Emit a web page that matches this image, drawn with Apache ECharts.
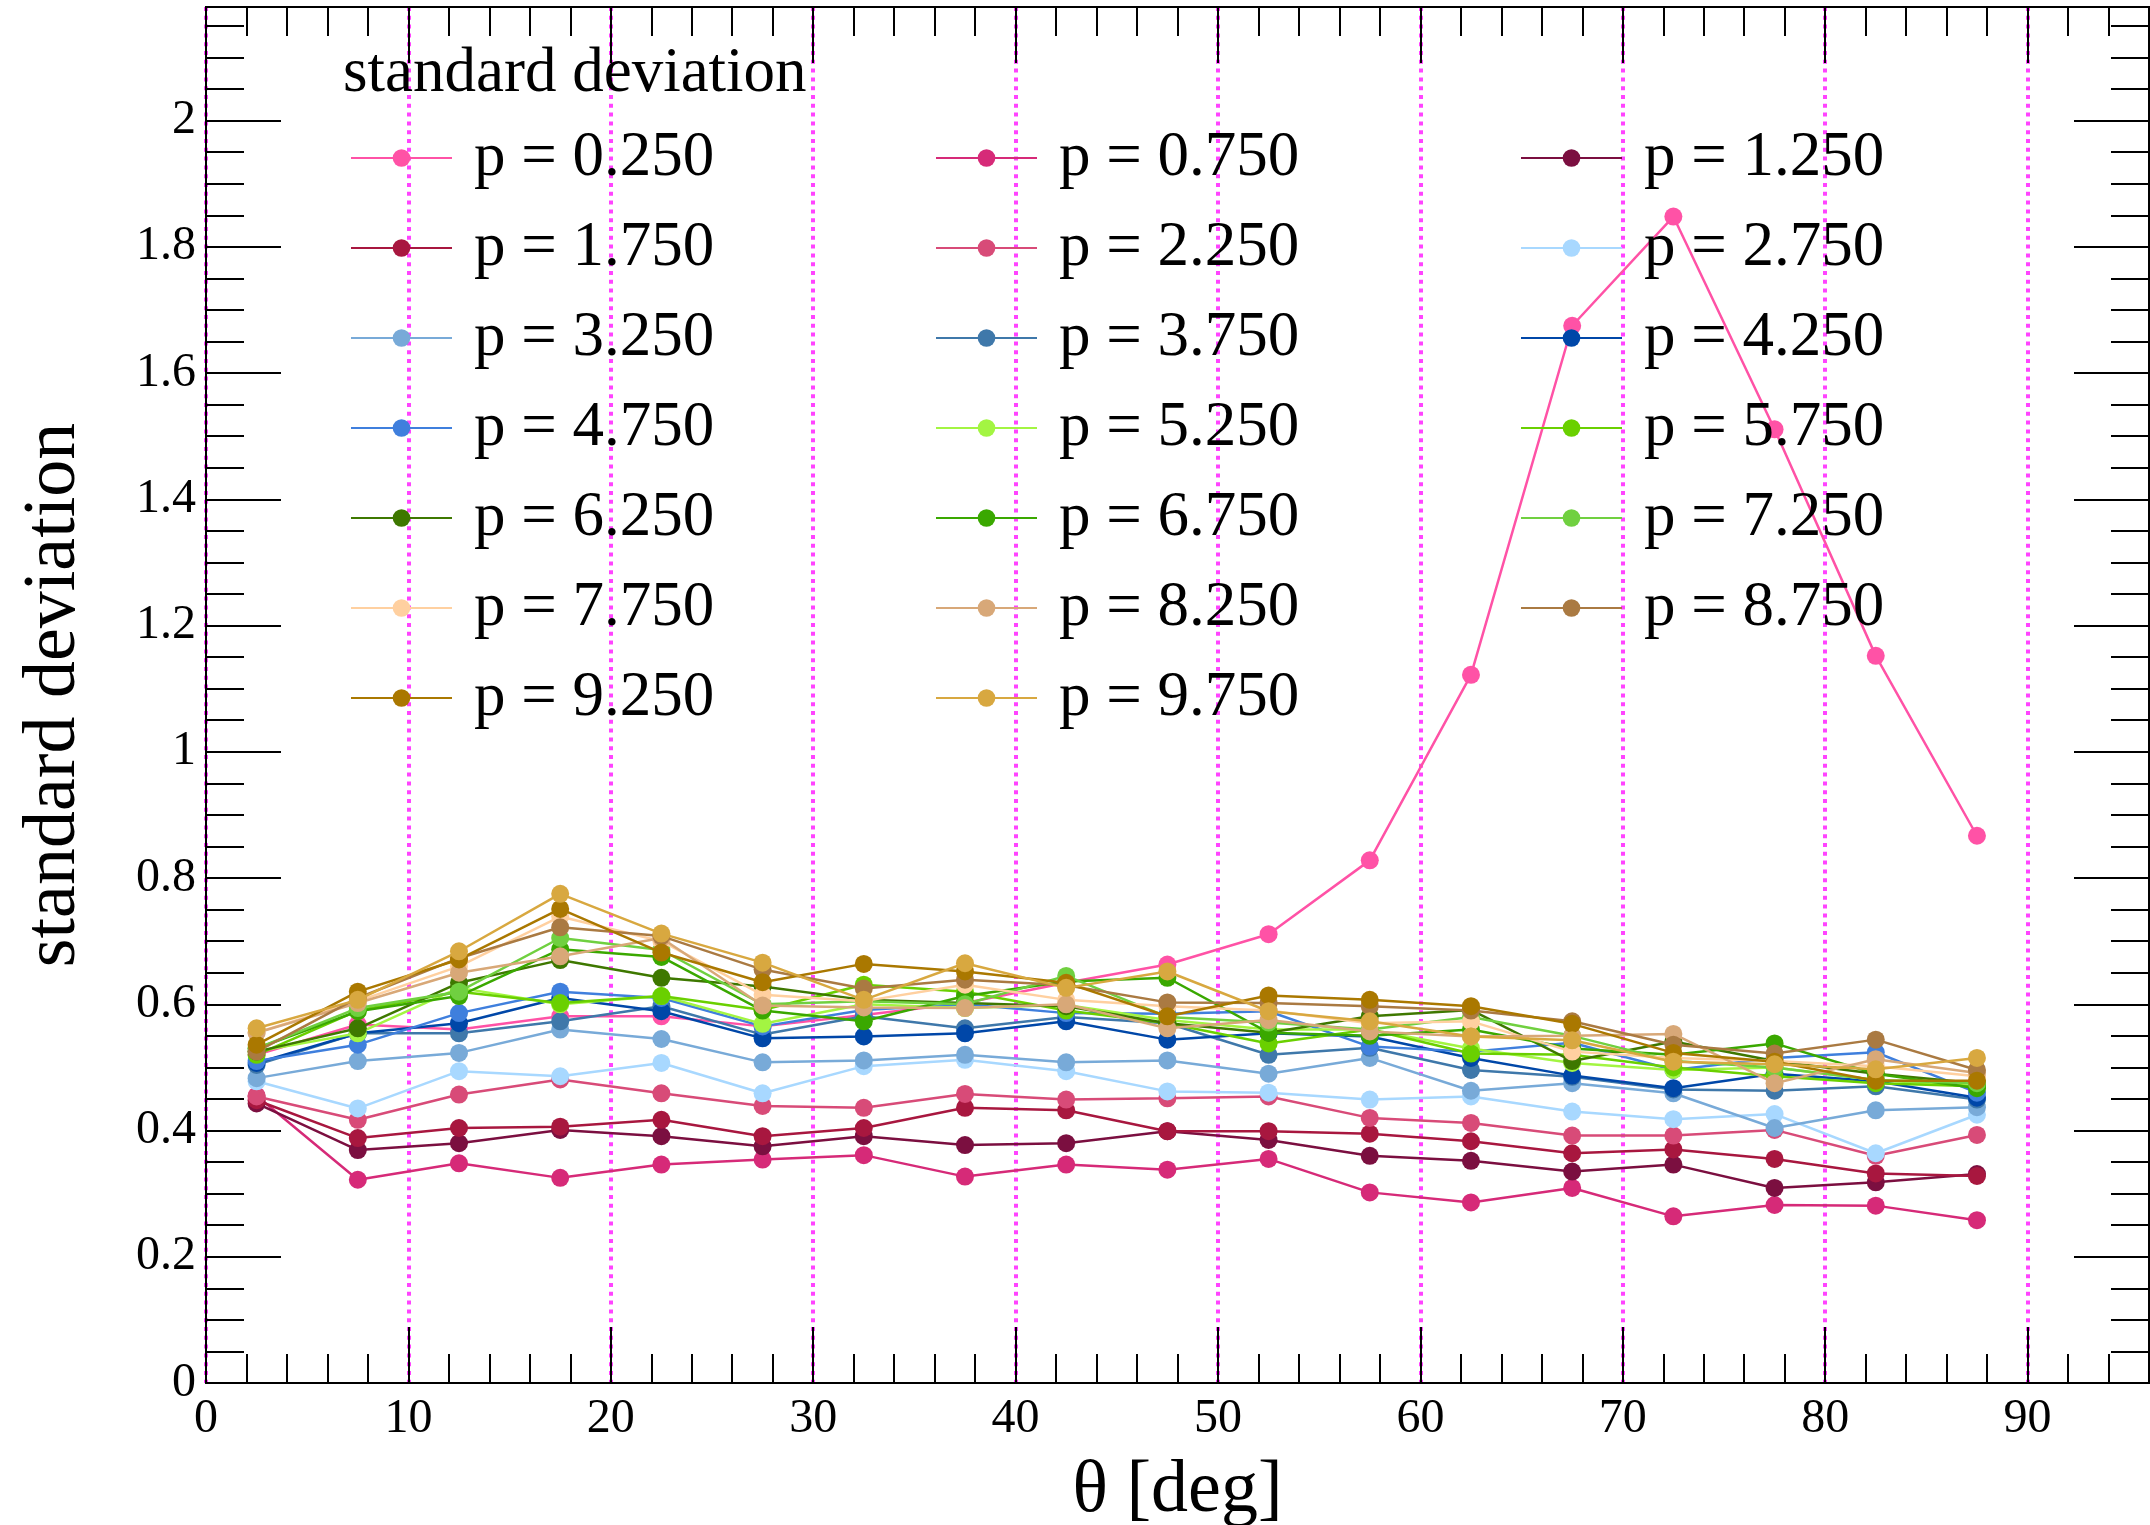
<!DOCTYPE html>
<html><head><meta charset="utf-8">
<script src="https://cdn.jsdelivr.net/npm/echarts@6/dist/echarts.min.js"></script>
<style>html,body{margin:0;padding:0;background:#fff}#c{width:2150px;height:1525px}</style>
</head><body><div id="c"></div>
<script>
// ---- data ----
const theta = [2.5, 7.5, 12.5, 17.5, 22.5, 27.5, 32.5, 37.5, 42.5, 47.5, 52.5, 57.5, 62.5, 67.5, 72.5, 77.5, 82.5, 87.5];
const pValues = [0.25, 0.75, 1.25, 1.75, 2.25, 2.75, 3.25, 3.75, 4.25, 4.75, 5.25, 5.75, 6.25, 6.75, 7.25, 7.75, 8.25, 8.75, 9.25, 9.75];
const sdP0250 = [0.520, 0.568, 0.560, 0.581, 0.581, 0.565, 0.583, 0.602, 0.634, 0.663, 0.711, 0.828, 1.122, 1.675, 1.848, 1.511, 1.152, 0.867];
const sdP0750 = [0.455, 0.322, 0.348, 0.325, 0.346, 0.354, 0.361, 0.327, 0.346, 0.338, 0.355, 0.302, 0.286, 0.309, 0.264, 0.282, 0.281, 0.258];
const sdP1250 = [0.443, 0.369, 0.380, 0.401, 0.391, 0.375, 0.391, 0.377, 0.380, 0.399, 0.385, 0.360, 0.352, 0.335, 0.346, 0.309, 0.318, 0.331];
const sdP1750 = [0.448, 0.388, 0.404, 0.406, 0.417, 0.391, 0.404, 0.436, 0.432, 0.399, 0.399, 0.395, 0.383, 0.364, 0.370, 0.355, 0.332, 0.328];
const sdP2250 = [0.454, 0.417, 0.457, 0.481, 0.459, 0.439, 0.436, 0.458, 0.449, 0.451, 0.454, 0.420, 0.412, 0.392, 0.392, 0.401, 0.360, 0.393];
const sdP2750 = [0.478, 0.435, 0.494, 0.486, 0.507, 0.459, 0.502, 0.512, 0.494, 0.462, 0.460, 0.449, 0.454, 0.430, 0.418, 0.426, 0.364, 0.425];
const sdP3250 = [0.483, 0.510, 0.523, 0.560, 0.545, 0.508, 0.511, 0.520, 0.508, 0.511, 0.490, 0.515, 0.463, 0.475, 0.459, 0.404, 0.432, 0.437];
const sdP3750 = [0.504, 0.554, 0.554, 0.573, 0.597, 0.552, 0.581, 0.562, 0.580, 0.570, 0.520, 0.531, 0.496, 0.485, 0.465, 0.463, 0.470, 0.449];
const sdP4250 = [0.507, 0.554, 0.570, 0.610, 0.589, 0.546, 0.549, 0.554, 0.573, 0.544, 0.554, 0.549, 0.515, 0.487, 0.467, 0.490, 0.478, 0.452];
const sdP4750 = [0.510, 0.536, 0.586, 0.620, 0.610, 0.565, 0.591, 0.600, 0.586, 0.585, 0.589, 0.533, 0.525, 0.539, 0.496, 0.515, 0.524, 0.460];
const sdP5250 = [0.525, 0.554, 0.626, 0.600, 0.613, 0.569, 0.600, 0.594, 0.599, 0.575, 0.560, 0.560, 0.530, 0.507, 0.496, 0.500, 0.480, 0.470];
const sdP5750 = [0.520, 0.590, 0.620, 0.602, 0.613, 0.591, 0.631, 0.620, 0.590, 0.570, 0.538, 0.560, 0.522, 0.520, 0.500, 0.486, 0.475, 0.470];
const sdP6250 = [0.525, 0.562, 0.634, 0.670, 0.642, 0.628, 0.607, 0.602, 0.597, 0.570, 0.555, 0.581, 0.591, 0.510, 0.541, 0.510, 0.490, 0.475];
const sdP6750 = [0.530, 0.589, 0.613, 0.687, 0.675, 0.590, 0.573, 0.613, 0.636, 0.642, 0.555, 0.550, 0.560, 0.530, 0.520, 0.538, 0.490, 0.467];
const sdP7250 = [0.530, 0.594, 0.620, 0.705, 0.686, 0.600, 0.605, 0.600, 0.645, 0.580, 0.571, 0.560, 0.580, 0.550, 0.510, 0.500, 0.480, 0.475];
const sdP7750 = [0.555, 0.605, 0.660, 0.739, 0.700, 0.615, 0.605, 0.631, 0.607, 0.597, 0.590, 0.570, 0.573, 0.525, 0.515, 0.510, 0.502, 0.486];
const sdP8250 = [0.555, 0.602, 0.650, 0.676, 0.705, 0.598, 0.595, 0.594, 0.600, 0.562, 0.575, 0.557, 0.549, 0.550, 0.553, 0.475, 0.513, 0.491];
const sdP8750 = [0.525, 0.610, 0.673, 0.722, 0.708, 0.655, 0.625, 0.639, 0.630, 0.603, 0.602, 0.597, 0.590, 0.573, 0.536, 0.522, 0.544, 0.496];
const sdP9250 = [0.536, 0.620, 0.671, 0.751, 0.682, 0.635, 0.664, 0.652, 0.634, 0.581, 0.614, 0.607, 0.597, 0.569, 0.523, 0.509, 0.479, 0.479];
const sdP9750 = [0.562, 0.607, 0.684, 0.775, 0.712, 0.666, 0.607, 0.665, 0.626, 0.652, 0.589, 0.573, 0.549, 0.543, 0.509, 0.505, 0.497, 0.515];
const seriesValues = [sdP0250, sdP0750, sdP1250, sdP1750, sdP2250, sdP2750, sdP3250, sdP3750, sdP4250, sdP4750,
  sdP5250, sdP5750, sdP6250, sdP6750, sdP7250, sdP7750, sdP8250, sdP8750, sdP9250, sdP9750];
const xMajorTicks = [0, 10, 20, 30, 40, 50, 60, 70, 80, 90];
const yMajorTicks = [0, 0.2, 0.4, 0.6, 0.8, 1, 1.2, 1.4, 1.6, 1.8, 2];
const legendTitle = 'standard deviation';
const xTitle = 'θ [deg]';
const yTitle = 'standard deviation';

// ---- styles ----
const palette = ['#ff52a6', '#d62a78', '#7b0f40', '#a8173f', '#d84b78', '#a8d8ff', '#78aad8', '#3f78aa', '#0047a8', '#3f7fdd',
  '#a3f542', '#6ad000', '#3e7800', '#3aa800', '#70d040', '#ffd0a0', '#d8a878', '#aa7a42', '#aa7800', '#d8a840'];
const FONT = 'Liberation Serif';
const names = pValues.map(p => 'p = ' + p.toFixed(3));

const series = seriesValues.map((vals, i) => ({
  name: names[i], type: 'line', xAxisIndex: 0, yAxisIndex: 0,
  data: vals.map((v, j) => [theta[j], v]),
  symbol: 'circle', symbolSize: 18, showSymbol: true,
  lineStyle: { color: palette[i], width: 2.5 },
  itemStyle: { color: palette[i], borderWidth: 0 },
  emphasis: { disabled: true }, z: 2 + i * 0.01
}));

const axisLineStyle = { color: '#000', width: 2 };
function xAx(pos, major) {
  const o = {
    type: 'value', position: pos, min: 0, max: 96, interval: major ? 10 : 2,
    axisLine: { show: true, onZero: false, lineStyle: axisLineStyle },
    axisTick: { show: true, inside: true, length: major ? 56 : 29, lineStyle: { color: '#000', width: 2 } },
    axisLabel: { show: false }, splitLine: { show: false }
  };
  if (major) {
    o.axisTick.customValues = xMajorTicks;
    if (pos === 'bottom') {
      o.axisLabel = { show: true, customValues: xMajorTicks, fontFamily: FONT, fontSize: 48, color: '#000', margin: 12 };
      o.splitLine = { show: true, lineStyle: { color: '#ff44ff', width: 4, type: [4, 4.8] } };
      o.name = xTitle; o.nameLocation = 'middle'; o.nameGap = 72;
      o.nameTextStyle = { fontFamily: FONT, fontSize: 74, color: '#000' };
    }
  }
  return o;
}
function yAx(pos, major) {
  const o = {
    type: 'value', position: pos, min: 0, max: 2.18, interval: major ? 0.2 : 0.05,
    axisLine: { show: true, onZero: false, lineStyle: axisLineStyle },
    axisTick: { show: true, inside: true, length: major ? 75 : 38, lineStyle: { color: '#000', width: 2 } },
    axisLabel: { show: false }, splitLine: { show: false }
  };
  if (major) {
    o.axisTick.customValues = yMajorTicks;
    if (pos === 'left') {
      o.axisLabel = { show: true, customValues: yMajorTicks, fontFamily: FONT, fontSize: 48, color: '#000', margin: 10 };
      o.name = yTitle; o.nameLocation = 'middle'; o.nameGap = 114;
      o.nameTextStyle = { fontFamily: FONT, fontSize: 74, color: '#000' };
    }
  }
  return o;
}

const legendCommon = {
  orient: 'vertical', padding: 0, itemWidth: 101, itemHeight: 22, itemGap: 26,
  selectedMode: false, inactiveColor: '#000',
  textStyle: { fontFamily: FONT, fontSize: 63, color: '#000', lineHeight: 64, padding: [0, 0, 0, 17] }
};
const legendCols = [[0, 3, 6, 9, 12, 15, 18], [1, 4, 7, 10, 13, 16, 19], [2, 5, 8, 11, 14, 17]];
const legendLefts = [350, 935, 1520];
const legends = legendCols.map((col, k) => Object.assign({}, legendCommon, {
  left: legendLefts[k], top: 126, data: col.map(i => names[i])
}));

const chart = echarts.init(document.getElementById('c'), null, { renderer: 'canvas' });
chart.setOption({
  animation: false,
  backgroundColor: '#fff',
  title: { text: legendTitle, left: 343, top: 43, padding: 0,
    textStyle: { fontFamily: FONT, fontSize: 63, fontWeight: 'normal', color: '#000' } },
  grid: { left: 206, right: 1, top: 7, bottom: 142, containLabel: false, outerBoundsMode: 'none' },
  legend: legends,
  xAxis: [xAx('bottom', true), xAx('bottom', false), xAx('top', true), xAx('top', false)],
  yAxis: [yAx('left', true), yAx('left', false), yAx('right', true), yAx('right', false)],
  series: series
});
</script></body></html>
